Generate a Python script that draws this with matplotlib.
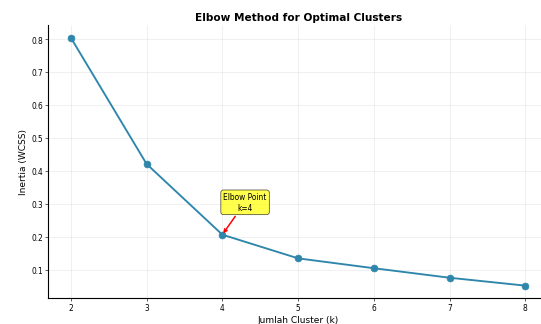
import matplotlib
matplotlib.use('Agg')
import matplotlib.pyplot as plt

# number of clusters and inertia values
k_values = [2, 3, 4, 5, 6, 7, 8]
inertia = [0.805, 0.421, 0.206, 0.134, 0.104, 0.075, 0.051]
elbow_k = 4

fig, ax = plt.subplots(figsize=(10, 6), dpi=54.1)
ax.plot(k_values, inertia, marker='o', color='#2E86AB', linewidth=2.5, markersize=9)

elbow_y = inertia[k_values.index(elbow_k)]
ax.annotate('Elbow Point\nk=4', xy=(elbow_k, elbow_y), xytext=(elbow_k + 0.3, elbow_y + 0.075),
            ha='center', fontsize=10,
            arrowprops=dict(arrowstyle='->', color='red', lw=2),
            bbox=dict(boxstyle='round,pad=0.35', facecolor='yellow', alpha=0.7))

ax.set_title('Elbow Method for Optimal Clusters', fontsize=14, fontweight='bold')
ax.set_xlabel('Jumlah Cluster (k)', fontsize=12)
ax.set_ylabel('Inertia (WCSS)', fontsize=12)
ax.set_xticks(k_values)
ax.grid(True, alpha=0.3)
ax.spines['top'].set_visible(False)
ax.spines['right'].set_visible(False)
ax.spines['left'].set_linewidth(1.5)
ax.spines['bottom'].set_linewidth(1.5)

fig.subplots_adjust(left=0.089, right=1.013, bottom=0.08, top=0.92)
fig.savefig('out.png', dpi=54.1)
